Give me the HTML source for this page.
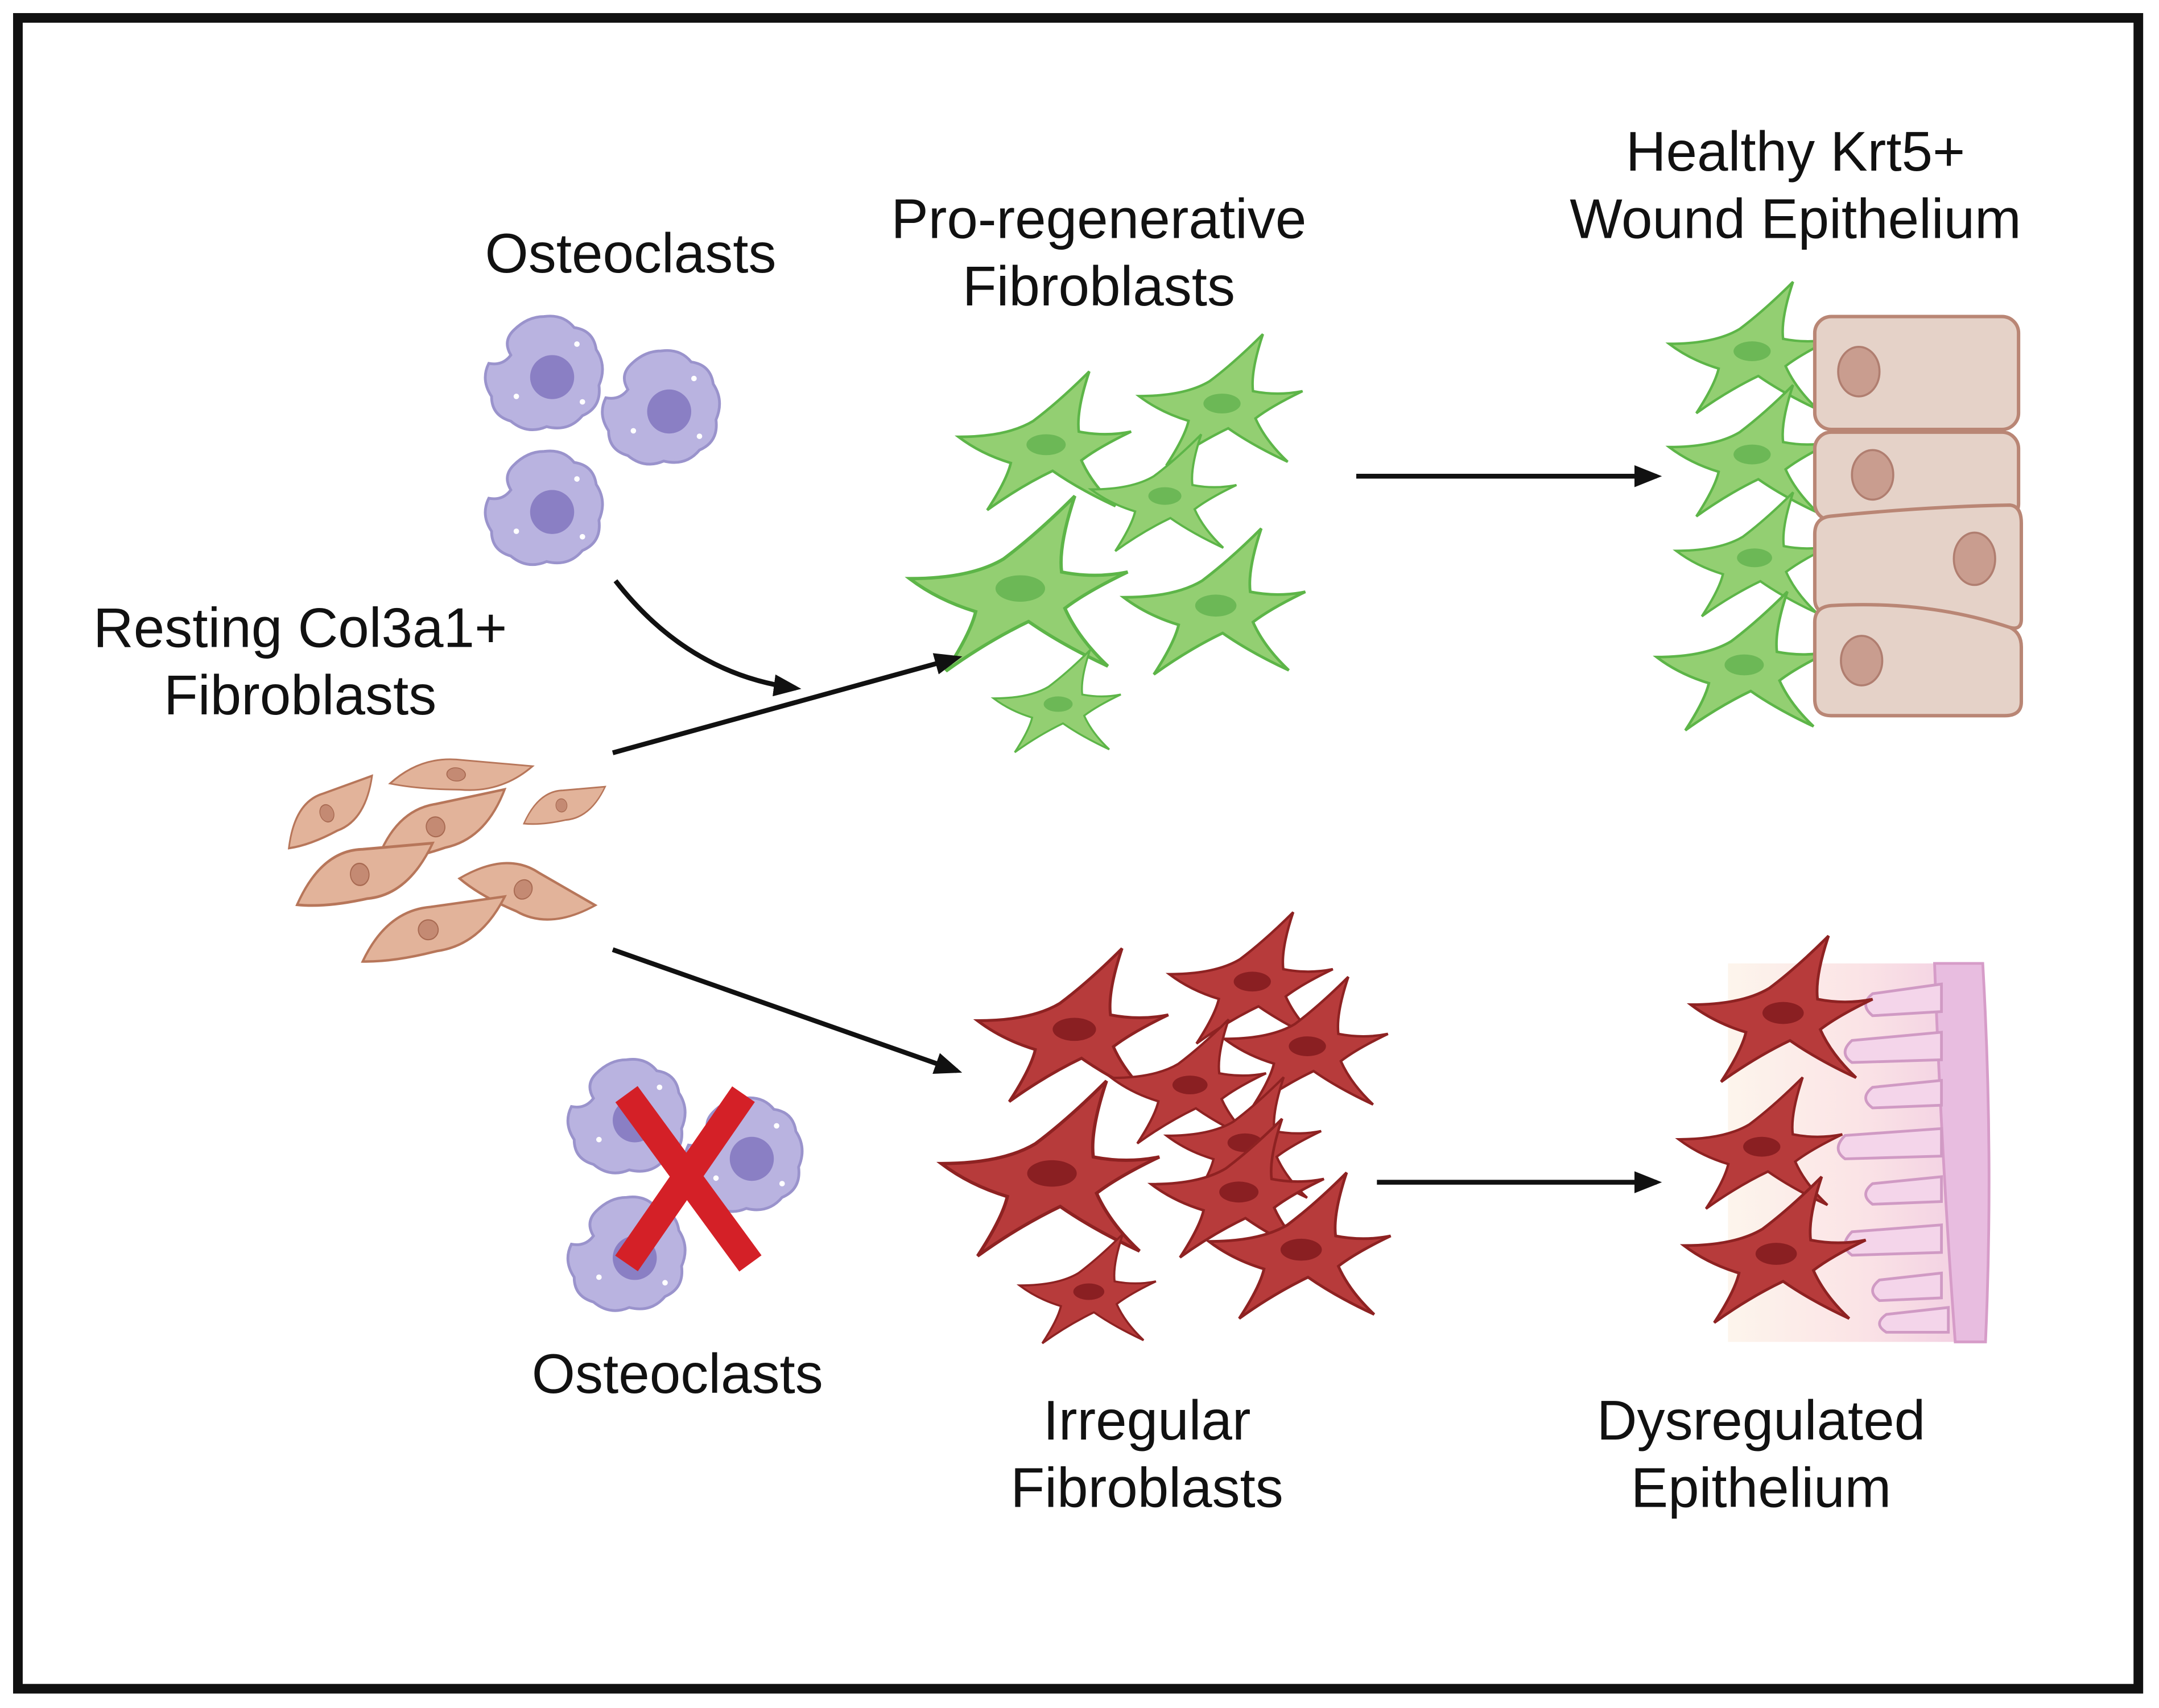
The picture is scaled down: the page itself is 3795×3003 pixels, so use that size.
<!DOCTYPE html>
<html><head><meta charset="utf-8"><style>
html,body{margin:0;padding:0;background:#fff}
svg{display:block}
text{font-family:"Liberation Sans",Arial,sans-serif;fill:#111;font-size:40.5px}
</style></head><body>
<svg width="3795" height="3003" viewBox="0 0 1568 1241" preserveAspectRatio="none" xmlns="http://www.w3.org/2000/svg">
<defs>
<path id="fibp" d="M-62,-8 Q-25,-8 -5,-20 Q15,-35 38,-58 Q28,-28 30,-12 Q50,-8 70,-12 Q45,0 32,10 Q40,28 58,45 Q30,32 10,18 Q-15,30 -40,48 Q-25,25 -22,12 Q-45,5 -62,-8 Z"/>
<g id="gf"><use href="#fibp" fill="#93cf72" stroke="#5db548" stroke-width="2"/><ellipse cx="5" cy="-2" rx="15" ry="8" fill="#6cb856"/></g>
<g id="rf"><use href="#fibp" fill="#b73b3b" stroke="#8e2222" stroke-width="2"/><ellipse cx="5" cy="-2" rx="15" ry="8" fill="#8a1f22"/></g>
<g id="ost">
<path d="M0,-40 Q14,-42 22,-32 Q36,-30 38,-16 Q46,-4 40,10 Q42,26 28,32 Q18,44 2,40 Q-12,46 -24,36 Q-38,32 -38,18 Q-46,6 -40,-6 Q-30,-4 -24,-12 Q-30,-22 -22,-30 Q-12,-40 0,-40 Z" fill="#b9b3e0" stroke="#9a93cc" stroke-width="2"/>
<circle cx="6" cy="4" r="16" fill="#8a7fc4"/>
<circle cx="-20" cy="18" r="2" fill="#fff"/><circle cx="24" cy="-20" r="2" fill="#fff"/><circle cx="28" cy="22" r="2" fill="#fff"/>
</g>
<g id="sp"><path d="M-68,18 Q-40,-20 0,-18 Q30,-18 68,-18 Q40,18 0,18 Q-40,22 -68,18 Z" fill="#e2b39a" stroke="#b7765a" stroke-width="2"/><ellipse cx="-5" cy="0" rx="9" ry="8" fill="#c48a73" stroke="#a86a52"/></g>
<marker id="ah" markerWidth="20" markerHeight="16" refX="16" refY="8" orient="auto" markerUnits="userSpaceOnUse"><path d="M0,0 L20,8 L0,16 Z" fill="#111"/></marker>
<linearGradient id="pk" x1="0" x2="1"><stop offset="0" stop-color="#fdf5ec"/><stop offset="0.5" stop-color="#fbe4e6"/><stop offset="1" stop-color="#f1cde2"/></linearGradient>
</defs>
<rect x="13" y="13" width="1540" height="1214" fill="#fff" stroke="#111" stroke-width="7"/>

<text x="458" y="198" text-anchor="middle">Osteoclasts</text>
<text x="798" y="173" text-anchor="middle">Pro-regenerative</text>
<text x="798" y="222" text-anchor="middle">Fibroblasts</text>
<text x="1304" y="124" text-anchor="middle">Healthy Krt5+</text>
<text x="1304" y="173" text-anchor="middle">Wound Epithelium</text>
<text x="218" y="470" text-anchor="middle">Resting Col3a1+</text>
<text x="218" y="519" text-anchor="middle">Fibroblasts</text>
<text x="492" y="1012" text-anchor="middle">Osteoclasts</text>
<text x="833" y="1046" text-anchor="middle">Irregular</text>
<text x="833" y="1095" text-anchor="middle">Fibroblasts</text>
<text x="1279" y="1046" text-anchor="middle">Dysregulated</text>
<text x="1279" y="1095" text-anchor="middle">Epithelium</text>

<use href="#ost" transform="translate(395,270)"/>
<use href="#ost" transform="translate(480,295)"/>
<use href="#ost" transform="translate(395,368)"/>
<use href="#ost" transform="translate(455,810)"/>
<use href="#ost" transform="translate(540,838)"/>
<use href="#ost" transform="translate(455,910)"/>
<path d="M455,795 L545,918 M540,795 L455,918" stroke="#d42027" stroke-width="20"/>

<use href="#sp" transform="translate(240,590) rotate(-20) scale(0.55,0.8)"/>
<use href="#sp" transform="translate(335,563) rotate(5) scale(0.75,0.6)"/>
<use href="#sp" transform="translate(410,585) rotate(-5) scale(0.45,0.6)"/>
<use href="#sp" transform="translate(320,600) rotate(-12) scale(0.75,0.9)"/>
<use href="#sp" transform="translate(265,635) rotate(-5) scale(0.75,1)"/>
<use href="#sp" transform="translate(383,648) rotate(30) scale(0.7,0.9)"/>
<use href="#sp" transform="translate(315,675) rotate(-8) scale(0.8,0.9)"/>

<use href="#gf" transform="translate(755,325) scale(0.95)"/>
<use href="#gf" transform="translate(883,295) scale(0.9)"/>
<use href="#gf" transform="translate(842,362) scale(0.8)"/>
<use href="#gf" transform="translate(735,430) scale(1.2)"/>
<use href="#gf" transform="translate(878,442) scale(1)"/>
<use href="#gf" transform="translate(765,513) scale(0.7)"/>
<use href="#gf" transform="translate(1268,257) scale(0.9)"/>
<use href="#gf" transform="translate(1268,332) scale(0.9)"/>
<use href="#gf" transform="translate(1270,407) scale(0.85)"/>
<use href="#gf" transform="translate(1262,485) scale(0.95)"/>

<g fill="#e5d2c8" stroke="#b98675" stroke-width="2.5">
<rect x="1318" y="230" width="148" height="82" rx="12"/>
<rect x="1318" y="314" width="148" height="64" rx="12"/>
<path d="M1330,375 Q1400,368 1460,367 Q1468,368 1468,380 L1468,450 Q1468,458 1460,456 Q1400,440 1330,446 Q1318,446 1318,435 L1318,388 Q1318,376 1330,375 Z"/>
<path d="M1330,440 Q1400,436 1460,456 Q1468,460 1468,470 L1468,510 Q1468,520 1456,520 L1330,520 Q1318,520 1318,508 L1318,452 Q1318,441 1330,440 Z"/>
</g>
<g fill="#c99d8f" stroke="#b07e70" stroke-width="1.5">
<ellipse cx="1350" cy="270" rx="15" ry="18"/><ellipse cx="1360" cy="345" rx="15" ry="18"/>
<ellipse cx="1434" cy="406" rx="15" ry="19"/><ellipse cx="1352" cy="480" rx="15" ry="18"/>
</g>

<rect x="1255" y="700" width="185" height="275" fill="url(#pk)"/>
<path d="M1405,700 L1440,700 Q1448,840 1442,975 L1420,975 Q1410,840 1405,700 Z" fill="#e8bde0" stroke="#d69cc8" stroke-width="2"/>
<g fill="#f4d5ea" stroke="#d09ac4" stroke-width="2">
<path d="M1410,715 L1360,722 Q1350,730 1360,738 L1410,735 Z"/>
<path d="M1410,750 L1345,756 Q1335,765 1345,772 L1410,770 Z"/>
<path d="M1410,785 L1360,790 Q1350,798 1360,805 L1410,803 Z"/>
<path d="M1410,820 L1340,825 Q1330,835 1340,842 L1410,840 Z"/>
<path d="M1410,855 L1360,860 Q1350,868 1360,875 L1410,873 Z"/>
<path d="M1410,890 L1345,895 Q1335,905 1345,912 L1410,910 Z"/>
<path d="M1410,925 L1365,930 Q1355,938 1365,945 L1410,943 Z"/>
<path d="M1415,950 L1370,955 Q1360,962 1370,968 L1415,968 Z"/>
</g>

<use href="#rf" transform="translate(775,750) scale(1.05)"/>
<use href="#rf" transform="translate(905,715) scale(0.9)"/>
<use href="#rf" transform="translate(945,762) scale(0.9)"/>
<use href="#rf" transform="translate(860,790) scale(0.85)"/>
<use href="#rf" transform="translate(758,855) scale(1.2)"/>
<use href="#rf" transform="translate(900,832) scale(0.85)"/>
<use href="#rf" transform="translate(895,868) scale(0.95)"/>
<use href="#rf" transform="translate(940,910) scale(1)"/>
<use href="#rf" transform="translate(787,940) scale(0.75)"/>
<use href="#rf" transform="translate(1290,738) scale(1)"/>
<use href="#rf" transform="translate(1275,835) scale(0.9)"/>
<use href="#rf" transform="translate(1285,913) scale(1)"/>

<g stroke="#111" stroke-width="3.5" fill="none" marker-end="url(#ah)">
<path d="M447,422 Q500,490 578,500"/>
<path d="M445,547 L695,478"/>
<path d="M985,346 L1203,346"/>
<path d="M445,690 L695,778"/>
<path d="M1000,859 L1203,859"/>
</g>
</svg>
</body></html>
